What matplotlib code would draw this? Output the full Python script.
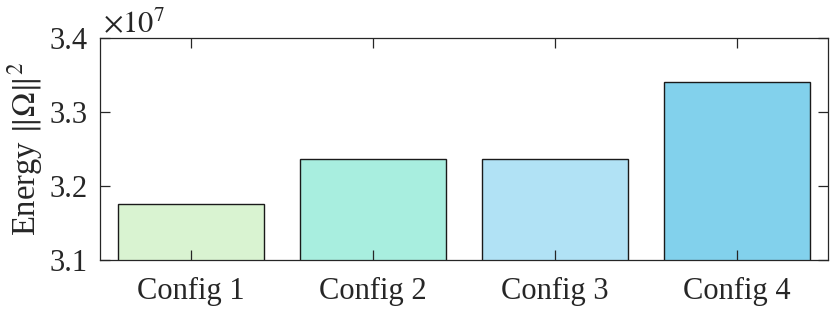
import numpy as np
import matplotlib
matplotlib.use("Agg")
import matplotlib.pyplot as plt

configs = ["Config 1", "Config 2", "Config 3", "Config 4"]
energy = [3.1757e7, 3.2362e7, 3.2362e7, 3.3410e7]
bar_colors = ["#d9f3d1", "#a8eedf", "#b1e2f5", "#82d1ec"]

plt.rcParams["font.family"] = "Liberation Serif"
plt.rcParams["mathtext.fontset"] = "stix"

fig = plt.figure(figsize=(8.3, 3.09), dpi=100)
ax = fig.add_axes([100 / 830, 1 - 260 / 309, 728 / 830, 222 / 309])

x = np.arange(1, len(configs) + 1)
ax.bar(x, energy, width=0.8, color=bar_colors, edgecolor="#1a1a1a", linewidth=1.0)

ax.set_xlim(0.5, 4.5)
ax.set_ylim(3.1e7, 3.4e7)
ax.set_yticks([3.1e7, 3.2e7, 3.3e7, 3.4e7])
ax.set_yticklabels(["3.1", "3.2", "3.3", "3.4"])
ax.set_xticks(x)
ax.set_xticklabels(configs)

gray = "#262626"
for s in ax.spines.values():
    s.set_color(gray)
    s.set_linewidth(0.9)
ax.tick_params(direction="in", length=7, width=0.9, color=gray,
               labelsize=22, labelcolor=gray, top=True, right=True)
ax.tick_params(axis="x", pad=12)
ax.tick_params(axis="y", pad=9)

ax.set_ylabel(r"Energy $\|\Omega\|^2$", fontsize=23.5, color=gray, labelpad=3)
ax.text(0.004, 0.995, r"$\times 10^{7}$", transform=ax.transAxes, fontsize=22,
        color=gray, ha="left", va="bottom")

fig.savefig("out.png", dpi=100)
